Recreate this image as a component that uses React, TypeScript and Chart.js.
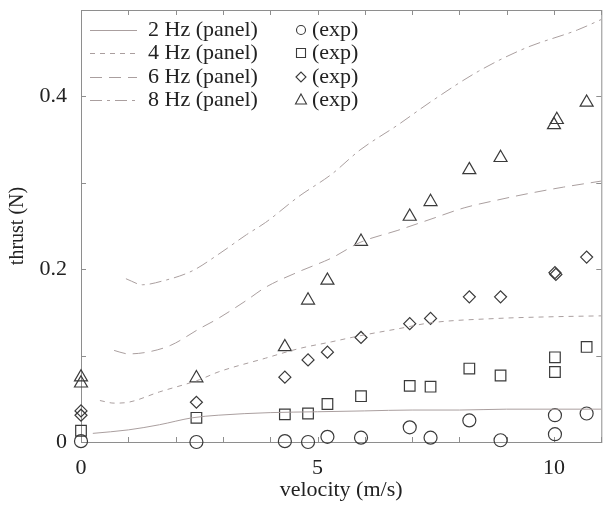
import React, { useEffect, useRef } from "react";
import { Chart, registerables } from "chart.js";

Chart.register(...registerables);

const FONT = '"Liberation Serif", "DejaVu Serif", "Times New Roman", serif';
const TEXT = "#222222";
const AXIS = "#8e8e8e";
const CURVE = "#aa9f9f";
const MARK = "#3a3a3a";
const FS = 22;

// ---- panel-method curves (velocity m/s, thrust N) ----
const v2Hz = [0.25, 1.0, 1.66, 2.35, 2.9, 4.0, 5.0, 6.0, 7.0, 8.0, 9.0, 10.0, 11.0];
const t2Hz = [0.010, 0.014, 0.020, 0.028, 0.031, 0.034, 0.035, 0.036, 0.037, 0.037, 0.038, 0.038, 0.038];

const v4Hz = [0.4, 0.7, 1.0, 1.66, 2.5, 2.9, 3.9, 4.6, 5.3, 5.9, 6.7, 7.4, 8.8, 10.0, 11.0];
const t4Hz = [0.048, 0.045, 0.046, 0.058, 0.072, 0.081, 0.097, 0.108, 0.116, 0.123, 0.131, 0.138, 0.143, 0.145, 0.146];

const v6Hz = [0.7, 1.0, 1.4, 1.9, 2.5, 2.9, 3.5, 3.9, 4.6, 5.3, 5.9, 6.7, 7.4, 8.1, 8.8, 9.5, 10.2, 11.0];
const t6Hz = [0.106, 0.102, 0.104, 0.112, 0.131, 0.143, 0.164, 0.179, 0.197, 0.213, 0.231, 0.245, 0.258, 0.271, 0.280, 0.288, 0.295, 0.302];

const v8Hz = [0.95, 1.3, 1.7, 2.35, 2.9, 3.5, 3.9, 4.6, 5.3, 5.9, 6.7, 7.4, 8.4, 9.4, 10.5, 11.0];
const t8Hz = [0.189, 0.182, 0.186, 0.198, 0.217, 0.240, 0.254, 0.284, 0.310, 0.338, 0.367, 0.394, 0.429, 0.456, 0.477, 0.489];

// ---- experiments ----
const vExp2 = [0, 2.44, 4.31, 4.8, 5.21, 5.92, 6.95, 7.39, 8.21, 8.87, 10.02, 10.02, 10.69];
const tExp2 = [0.001, 0.0, 0.001, 0.0, 0.006, 0.005, 0.017, 0.005, 0.025, 0.002, 0.031, 0.009, 0.033];

const vExp4 = [0, 2.44, 4.31, 4.8, 5.21, 5.92, 6.95, 7.39, 8.21, 8.87, 10.02, 10.02, 10.69];
const tExp4 = [0.013, 0.028, 0.032, 0.033, 0.044, 0.053, 0.065, 0.064, 0.085, 0.077, 0.098, 0.081, 0.110];

const vExp6 = [0, 0, 2.44, 4.31, 4.8, 5.21, 5.92, 6.95, 7.39, 8.21, 8.87, 10.02, 10.04, 10.69];
const tExp6 = [0.036, 0.031, 0.046, 0.075, 0.095, 0.104, 0.121, 0.137, 0.143, 0.168, 0.168, 0.196, 0.194, 0.214];

const vExp8 = [0, 0, 2.44, 4.31, 4.8, 5.21, 5.92, 6.95, 7.39, 8.21, 8.87, 10.0, 10.06, 10.69];
const tExp8 = [0.075, 0.068, 0.074, 0.110, 0.164, 0.187, 0.232, 0.261, 0.278, 0.315, 0.329, 0.367, 0.373, 0.393];

const panelLabels = ["2 Hz (panel)", "4 Hz (panel)", "6 Hz (panel)", "8 Hz (panel)"];
const expLabel = "(exp)";
const panelDashes: number[][] = [[], [5, 5], [12, 7], [12, 5, 3, 5]];
const expStyles = ["circle", "rect", "rectRot", "triangle"];
const expRadii = [6.5, 7.5, 6, 7.5];

const xLabelValues = [0, 5, 10];
const yLabelValues = [0, 0.2, 0.4];

const pts = (xs: number[], ys: number[]) => xs.map((x, i) => ({ x, y: ys[i] }));

function drawLegendMarker(ctx: CanvasRenderingContext2D, style: string, x: number, y: number) {
  ctx.beginPath();
  if (style === "circle") {
    ctx.arc(x, y, 4.5, 0, Math.PI * 2);
  } else if (style === "rect") {
    ctx.rect(x - 4.5, y - 4.5, 9, 9);
  } else if (style === "rectRot") {
    ctx.moveTo(x - 5, y);
    ctx.lineTo(x, y - 5);
    ctx.lineTo(x + 5, y);
    ctx.lineTo(x, y + 5);
    ctx.closePath();
  } else {
    ctx.moveTo(x, y - 6);
    ctx.lineTo(x + 5.5, y + 4);
    ctx.lineTo(x - 5.5, y + 4);
    ctx.closePath();
  }
  ctx.stroke();
}

const framePlugin = {
  id: "frameTicks",
  beforeDatasetsDraw(chart: any) {
    const { ctx, chartArea: a, scales } = chart;
    const xs = scales.x;
    const ys = scales.y;
    ctx.save();
    ctx.strokeStyle = AXIS;
    ctx.lineWidth = 1;
    ctx.setLineDash([]);
    ctx.strokeRect(a.left + 0.5, a.top + 0.5, a.right - a.left, a.bottom - a.top);
    const L = 5;
    ctx.beginPath();
    xs.ticks.forEach((t: any) => {
      const px = Math.round(xs.getPixelForValue(t.value)) + 0.5;
      ctx.moveTo(px, a.bottom);
      ctx.lineTo(px, a.bottom - L);
      ctx.moveTo(px, a.top);
      ctx.lineTo(px, a.top + L);
    });
    ys.ticks.forEach((t: any) => {
      const py = Math.round(ys.getPixelForValue(t.value)) + 0.5;
      ctx.moveTo(a.left, py);
      ctx.lineTo(a.left + L, py);
      ctx.moveTo(a.right, py);
      ctx.lineTo(a.right - L, py);
    });
    ctx.stroke();
    ctx.restore();
  },
};

const legendPlugin = {
  id: "innerLegend",
  afterDraw(chart: any) {
    const { ctx, chartArea: a } = chart;
    ctx.save();
    ctx.font = `${FS}px ${FONT}`;
    ctx.textBaseline = "middle";
    ctx.textAlign = "left";
    const rows = [20, 43, 67, 90];
    panelLabels.forEach((label, i) => {
      const y = a.top + rows[i];
      ctx.strokeStyle = CURVE;
      ctx.lineWidth = 1;
      ctx.setLineDash(panelDashes[i]);
      ctx.beginPath();
      ctx.moveTo(a.left + 9, y + 0.5);
      ctx.lineTo(a.left + 56, y + 0.5);
      ctx.stroke();
      ctx.setLineDash([]);
      ctx.fillStyle = TEXT;
      ctx.fillText(label, a.left + 67, y);
      ctx.strokeStyle = MARK;
      ctx.lineWidth = 1.1;
      drawLegendMarker(ctx, expStyles[i], a.left + 220, y);
      ctx.fillText(expLabel, a.left + 231, y);
    });
    ctx.restore();
  },
};

export default function App() {
  const canvasRef = useRef<HTMLCanvasElement | null>(null);

  useEffect(() => {
    const canvas = canvasRef.current;
    if (!canvas) return;
    const curves = [
      pts(v2Hz, t2Hz),
      pts(v4Hz, t4Hz),
      pts(v6Hz, t6Hz),
      pts(v8Hz, t8Hz),
    ];
    const exps = [
      pts(vExp2, tExp2),
      pts(vExp4, tExp4),
      pts(vExp6, tExp6),
      pts(vExp8, tExp8),
    ];
    const datasets: any[] = [];
    curves.forEach((data, i) => {
      datasets.push({
        type: "line",
        label: panelLabels[i],
        data,
        borderColor: CURVE,
        borderWidth: 1,
        borderDash: panelDashes[i],
        pointRadius: 0,
        fill: false,
        cubicInterpolationMode: "monotone",
      });
    });
    exps.forEach((data, i) => {
      datasets.push({
        type: "scatter",
        label: expLabel,
        data,
        pointStyle: expStyles[i],
        pointRadius: expRadii[i],
        borderColor: MARK,
        backgroundColor: "rgba(0,0,0,0)",
        borderWidth: 1.2,
        clip: false,
      });
    });

    const chart = new Chart(canvas, {
      type: "scatter",
      data: { datasets },
      options: {
        animation: false,
        responsive: false,
        maintainAspectRatio: false,
        layout: { padding: { left: 0, right: 6, top: 10, bottom: 0 } },
        plugins: {
          legend: { display: false },
          tooltip: { enabled: false },
        },
        scales: {
          x: {
            type: "linear",
            min: 0,
            max: 11,
            grid: { display: false },
            border: { display: false },
            afterFit: (s: any) => {
              s.height = 64;
              s.paddingLeft = 0;
              s.paddingRight = 0;
            },
            ticks: {
              stepSize: 1,
              autoSkip: false,
              maxRotation: 0,
              padding: 5,
              color: TEXT,
              font: { family: FONT, size: FS },
              callback: (v: any) => {
                const n = Number(v);
                return xLabelValues.some((t) => Math.abs(t - n) < 1e-6) ? String(n) : "";
              },
            },
            title: {
              display: true,
              text: "velocity (m/s)",
              color: TEXT,
              font: { family: FONT, size: FS },
              padding: { top: 3, bottom: 3 },
            },
          },
          y: {
            type: "linear",
            min: 0,
            max: 0.5,
            grid: { display: false },
            border: { display: false },
            afterFit: (s: any) => {
              s.width = 81;
              s.paddingTop = 0;
              s.paddingBottom = 0;
            },
            ticks: {
              stepSize: 0.1,
              padding: 6,
              color: TEXT,
              font: { family: FONT, size: FS },
              callback: (v: any) => {
                const n = Number(v);
                const hit = yLabelValues.find((t) => Math.abs(t - n) < 1e-6);
                return hit !== undefined ? String(hit) : "";
              },
            },
            title: {
              display: true,
              text: "thrust (N)",
              color: TEXT,
              font: { family: FONT, size: 20 },
              padding: { top: 6, bottom: 6 },
            },
          },
        },
      },
      plugins: [framePlugin, legendPlugin],
    } as any);
    return () => chart.destroy();
  }, []);

  return (
    <div style={{ position: "fixed", left: 0, top: 0, width: 610, height: 506, background: "#ffffff" }}>
      <canvas ref={canvasRef} width={610} height={506} style={{ display: "block" }} />
    </div>
  );
}
